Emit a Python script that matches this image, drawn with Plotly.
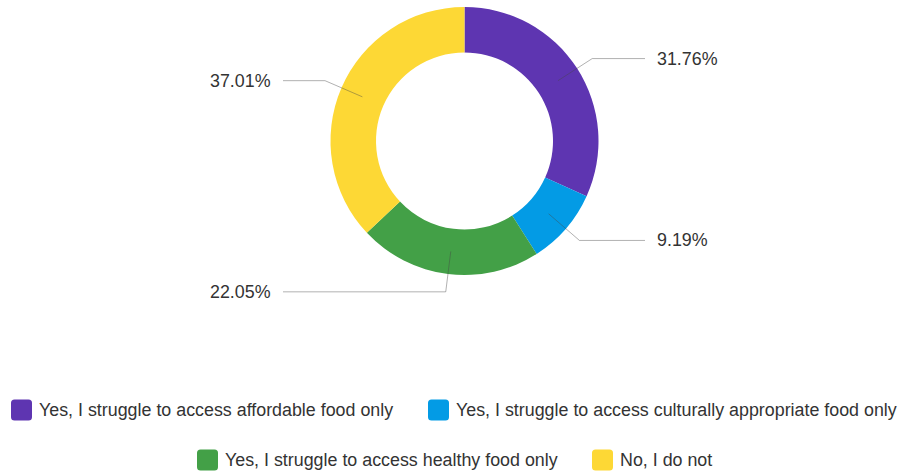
import math
import plotly.graph_objects as go

# Survey answers and their shares (percent)
categories = [
    "Yes, I struggle to access affordable food only",
    "Yes, I struggle to access culturally appropriate food only",
    "Yes, I struggle to access healthy food only",
    "No, I do not",
]
shares = [31.76, 9.19, 22.05, 37.01]
colors = ["#5E35B1", "#039BE5", "#43A047", "#FDD835"]

W, H = 901, 473
FONT = "Liberation Sans, Arial, sans-serif"
TEXT_COLOR = "#333333"
FS = 17.85

# donut geometry in pixels
cx, cy = 464.5, 141.0
r_out, r_in = 134.0, 88.5
r_mid = (r_out + r_in) / 2
r_elbow = 152.0


def px(x):
    return x / W


def py(y):
    return 1 - y / H


fig = go.Figure(
    go.Pie(
        labels=categories,
        values=shares,
        marker=dict(colors=colors, line=dict(width=0)),
        hole=r_in / r_out,
        sort=False,
        direction="clockwise",
        rotation=0,
        textinfo="none",
        hoverinfo="label+percent",
        showlegend=False,
        domain=dict(
            x=[px(cx - r_out), px(cx + r_out)],
            y=[py(cy + r_out), py(cy - r_out)],
        ),
    )
)

shapes = []
annotations = []
total = sum(shares)
cum = 0.0
for val in shares:
    ang = math.radians(90 - 360 * (cum + val / 2) / total)
    cum += val
    x0, y0 = cx + r_mid * math.cos(ang), cy - r_mid * math.sin(ang)
    x1, y1 = cx + r_elbow * math.cos(ang), cy - r_elbow * math.sin(ang)
    right = math.cos(ang) > 0
    x2 = 645 if right else 283
    shapes.append(dict(
        type="path", xref="paper", yref="paper",
        path=f"M {px(x0)},{py(y0)} L {px(x1)},{py(y1)} L {px(x2)},{py(y1)}",
        line=dict(color="rgba(70,70,70,0.42)", width=1),
    ))
    annotations.append(dict(
        xref="paper", yref="paper",
        x=px(655 if right else 273), y=py(y1),
        xanchor="left" if right else "right", yanchor="middle",
        text=f"{val:.2f}%", showarrow=False,
        font=dict(family=FONT, size=FS, color=TEXT_COLOR),
    ))

# legend rows: square left edge and row centre (pixels)
legend_pos = [(11, 410), (428, 410), (197, 460), (592, 460)]
sq, rad = 21, 3.5
for (lx, ly), name, col in zip(legend_pos, categories, colors):
    t, b = ly - sq / 2, ly + sq / 2
    l, r = lx, lx + sq
    path = (
        f"M {px(l + rad)},{py(t)} L {px(r - rad)},{py(t)} "
        f"Q {px(r)},{py(t)} {px(r)},{py(t + rad)} L {px(r)},{py(b - rad)} "
        f"Q {px(r)},{py(b)} {px(r - rad)},{py(b)} L {px(l + rad)},{py(b)} "
        f"Q {px(l)},{py(b)} {px(l)},{py(b - rad)} L {px(l)},{py(t + rad)} "
        f"Q {px(l)},{py(t)} {px(l + rad)},{py(t)} Z"
    )
    shapes.append(dict(type="path", xref="paper", yref="paper", path=path,
                       fillcolor=col, line=dict(width=0)))
    annotations.append(dict(
        xref="paper", yref="paper", x=px(r + 5), y=py(ly),
        xanchor="left", yanchor="middle", text=name, showarrow=False,
        font=dict(family=FONT, size=FS, color=TEXT_COLOR),
    ))

fig.update_layout(
    width=W, height=H,
    margin=dict(l=0, r=0, t=0, b=0),
    paper_bgcolor="white", plot_bgcolor="white",
    shapes=shapes, annotations=annotations,
)

fig.write_html("out.html")
